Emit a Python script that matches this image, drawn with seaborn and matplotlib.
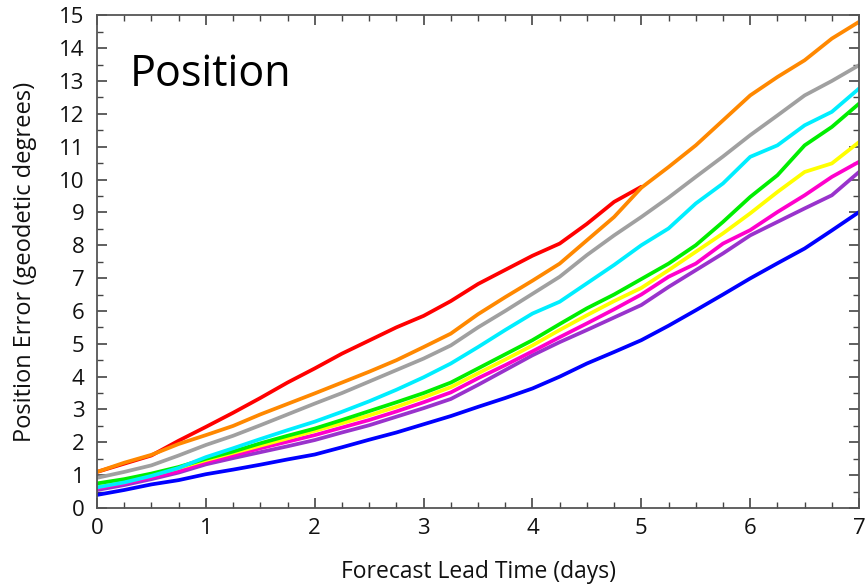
import pandas as pd
import seaborn as sns
import matplotlib.pyplot as plt
from matplotlib.ticker import MultipleLocator

# lead times every 6 h (days)
lead = [i * 0.25 for i in range(29)]

red = [1.1, 1.35, 1.6, 2.05, 2.47, 2.9, 3.35, 3.82, 4.25, 4.7, 5.1, 5.5, 5.85, 6.3,
       6.82, 7.25, 7.68, 8.05, 8.65, 9.32, 9.78]
orange = [1.1, 1.38, 1.62, 1.95, 2.22, 2.5, 2.85, 3.17, 3.49, 3.82, 4.15, 4.5, 4.9, 5.31,
          5.9, 6.42, 6.92, 7.44, 8.15, 8.86, 9.75, 10.38, 11.04, 11.8, 12.56, 13.12,
          13.63, 14.29, 14.8]
gray = [0.92, 1.1, 1.3, 1.6, 1.92, 2.2, 2.52, 2.85, 3.18, 3.5, 3.85, 4.2, 4.55, 4.95,
        5.5, 6.0, 6.52, 7.04, 7.7, 8.3, 8.86, 9.45, 10.08, 10.7, 11.35, 11.95, 12.56,
        13.0, 13.48]
cyan = [0.63, 0.78, 0.98, 1.22, 1.55, 1.82, 2.1, 2.37, 2.63, 2.93, 3.25, 3.6, 3.98, 4.4,
        4.9, 5.42, 5.92, 6.28, 6.84, 7.4, 8.0, 8.51, 9.27, 9.88, 10.69, 11.04, 11.65,
        12.06, 12.77]
green = [0.75, 0.88, 1.05, 1.25, 1.5, 1.72, 1.97, 2.2, 2.42, 2.68, 2.95, 3.22, 3.5, 3.82,
         4.25, 4.68, 5.11, 5.6, 6.08, 6.5, 6.97, 7.44, 8.0, 8.71, 9.47, 10.13, 11.04,
         11.6, 12.31]
yellow = [0.7, 0.83, 1.0, 1.22, 1.46, 1.68, 1.9, 2.12, 2.35, 2.58, 2.82, 3.08, 3.37, 3.68,
          4.1, 4.52, 4.95, 5.42, 5.87, 6.3, 6.7, 7.24, 7.8, 8.36, 8.97, 9.62, 10.23,
          10.49, 11.14]
magenta = [0.6, 0.75, 0.93, 1.12, 1.4, 1.6, 1.82, 2.02, 2.22, 2.45, 2.68, 2.94, 3.22, 3.52,
           3.95, 4.35, 4.77, 5.2, 5.62, 6.05, 6.5, 7.04, 7.44, 8.05, 8.46, 9.01, 9.52,
           10.08, 10.54]
purple = [0.55, 0.7, 0.88, 1.08, 1.33, 1.52, 1.7, 1.88, 2.07, 2.3, 2.52, 2.78, 3.04, 3.32,
          3.75, 4.2, 4.65, 5.05, 5.42, 5.8, 6.18, 6.73, 7.24, 7.75, 8.3, 8.71, 9.12,
          9.52, 10.23]
blue = [0.4, 0.55, 0.72, 0.85, 1.03, 1.17, 1.32, 1.48, 1.63, 1.85, 2.08, 2.3, 2.55, 2.8,
        3.08, 3.35, 3.64, 4.0, 4.4, 4.75, 5.11, 5.55, 6.02, 6.5, 6.99, 7.45, 7.9,
        8.45, 9.01]

series = {
    "blue": blue, "purple": purple, "magenta": magenta, "yellow": yellow,
    "green": green, "cyan": cyan, "gray": gray, "red": red, "orange": orange,
}
colores = {
    "blue": "#0000ff", "purple": "#9933cc", "magenta": "#ff00cc", "yellow": "#ffff00",
    "green": "#00ee00", "cyan": "#00eeff", "gray": "#a0a0a0", "red": "#ff0000",
    "orange": "#ff8800",
}

frames = []
for nombre, vals in series.items():
    frames.append(pd.DataFrame({"lead": lead[:len(vals)], "err": vals, "model": nombre}))
df = pd.concat(frames)

sns.set_theme(style="ticks")
plt.rcParams["font.family"] = ["Open Sans", "DejaVu Sans"]

fig = plt.figure(figsize=(8.66, 5.86), dpi=100)
ax = fig.add_axes([0.112, 0.133, 0.880, 0.841])

sns.lineplot(data=df, x="lead", y="err", hue="model", palette=colores,
             linewidth=2.7, legend=False, ax=ax)

ax.set_xlim(0, 7)
ax.set_ylim(0, 15)
ax.xaxis.set_major_locator(MultipleLocator(1))
ax.xaxis.set_minor_locator(MultipleLocator(0.25))
ax.yaxis.set_major_locator(MultipleLocator(1))
ax.yaxis.set_minor_locator(MultipleLocator(0.5))
ax.tick_params(which="both", direction="in", top=True, right=True,
               color="#444444", labelsize=16, labelcolor="#111111")
ax.tick_params(axis="y", pad=9)
ax.tick_params(axis="x", pad=7)
ax.tick_params(which="major", length=7, width=1.2)
ax.tick_params(which="minor", length=4, width=1.0)
for s in ax.spines.values():
    s.set_color("#555555")
    s.set_linewidth(1.3)

ax.set_xlabel("Forecast Lead Time (days)", fontsize=16.5, labelpad=15, color="#111111")
ax.set_ylabel("Position Error (geodetic degrees)", fontsize=17, labelpad=16, color="#111111")
ax.text(0.043, 0.88, "Position", transform=ax.transAxes, fontsize=31,
        ha="left", va="center", color="black")

fig.savefig("out.png", dpi=100)
